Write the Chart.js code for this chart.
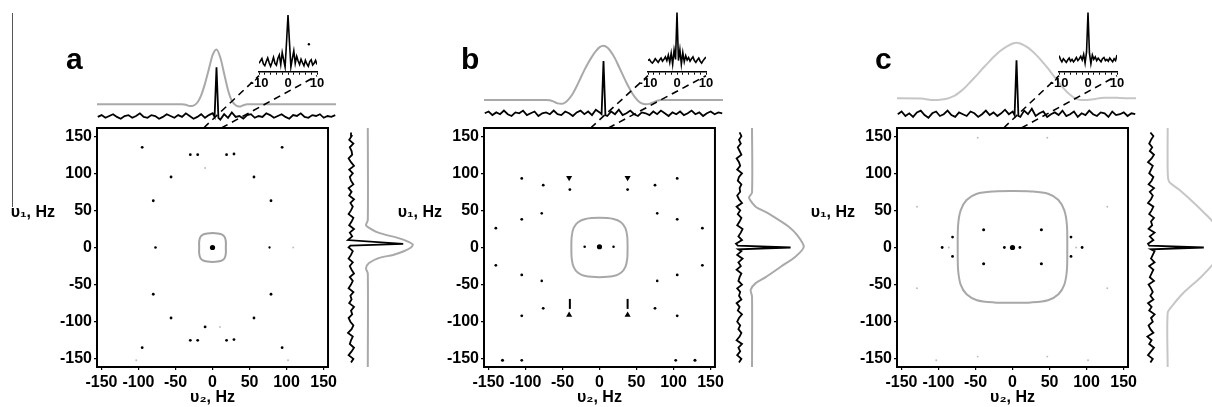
<!DOCTYPE html>
<html>
<head>
<meta charset="utf-8">
<script src="https://cdn.jsdelivr.net/npm/chart.js@4.4.0/dist/chart.umd.min.js"></script>
<style>
  html, body { margin: 0; padding: 0; background: #fff; width: 1212px; height: 407px; overflow: hidden; }
  canvas { position: absolute; }
  #edge { position: absolute; left: 12px; top: 13px; width: 0; height: 194px; border-left: 1px solid #555; }
</style>
</head>
<body>
<div id="edge"></div>
<script>
// ---- shared axes / grids ----
const axisTicks = [-150, -100, -50, 0, 50, 100, 150];
const insetTicks = [-10, -8, -6, -4, -2, 0, 2, 4, 6, 8, 10];
const insetLabels = [-10, 0, 10];
const zoomFrom = [-12, 12];
const zoomTo = [-10, 10];

const freqGrid = [-155,-150,-145,-140,-135,-130,-125,-120,-115,-110,-105,-100,-95,-90,-85,-80,-75,-70,-65,-60,
  -55,-50,-45,-40,-35,-30,-25,-20,-15,-10,-5,-2.5,0,2.5,5,10,15,20,25,30,35,40,45,50,55,60,65,70,75,80,85,90,95,100,
  105,110,115,120,125,130,135,140,145,150,155];
const insetGrid = [-10,-9.5,-9,-8.5,-8,-7.5,-7,-6.5,-6,-5.5,-5,-4.5,-4,-3.5,-3,-2.5,-2,-1.5,-1,-0.5,0,
  0.5,1,1.5,2,2.5,3,3.5,4,4.5,5,5.5,6,6.5,7,7.5,8,8.5,9,9.5,10];

// ---- panel a ----
const peaksAX = [-95,-30,-20,19,29,94,-56,56,-10,-80,79,-77,77,109,0,-80,79,-56,56,-10,10,-30,-20,19,29,-95,94,-103,102];
const peaksAY = [135,125,125,125,126,135,95,95,107,63,63,0,0,0,0,-63,-63,-95,-95,-107,-107,-125,-125,-125,-124,-135,-135,-152,-152];
const peaksAI = [1,1,1,1,1,1,1,1,0.3,1,1,0.8,0.6,0.3,3,1,1,1,1,1,0.3,1,1,1,1,1,1,0.3,0.3];
const contourAX = [18,18,16.5,13,7,0,-7,-13,-16.5,-18,-18,-18,-16.5,-13,-7,0,7,13,16.5,18,18];
const contourAY = [0,8,14,17.5,19,19.5,19,17.5,14,8,0,-8,-14,-17.5,-19,-19.5,-19,-17.5,-14,-8,0];
const topBlackA = [9,11,8,10,12,9,7,10,11,8,10,13,9,8,11,10,7,9,12,10,8,11,9,13,10,7,9,12,8,11,13,9,
  64,
  8,6,12,8,14,9,10,7,11,12,8,10,9,13,11,8,10,12,9,7,11,10,13,9,8,11,10,12,8,10,9,11];
const topGrayAX = [-156,-45,-40,-35,-30,-25,-20,-15,-10,-5,0,5,10,15,20,25,30,35,40,156];
const topGrayAY = [23,23,22.5,21,21.5,25,33,46,62,78,84,75,57,39,27,22,20.5,22,23,23];
const rightBlackA = [10,14,6,11,15,8,10,13,5,11,14,9,6,12,10,15,7,11,9,14,6,10,13,8,15,11,8,13,6,10,13,10,6,9,
  97,
  5,12,8,15,7,11,14,6,10,13,9,15,7,11,6,14,10,8,13,7,15,10,6,12,11,8,14,7,11,10];
const rightGrayAF = [-162,-35,-28,-21,-14,-10,-5,0,4,8,13,17,21,26,30,37,162];
const rightGrayAV = [38,38,35,40,57,80,98,110,113,105,88,68,52,41,35,38,38];
const insetA = [14,18,22,13,10,17,23,15,9,16,24,14,11,22,28,12,32,20,8,50,95,50,8,22,35,14,26,18,12,21,15,
  10,19,13,9,17,20,11,14,19,12];
const insetSpotAX = [7.2];
const insetSpotAY = [46];

// ---- panel b ----
const peaksBX = [-105,-76,-40,38,75,105,-78,78,-105,105,-140,139,-20,19,0,-140,139,-105,105,-78,78,-76,75,-105,105,-131,-105,103,129];
const peaksBY = [93,84,78,78,84,93,46,46,38,38,26,26,1,1,1,-24,-24,-37,-37,-45,-45,-82,-82,-92,-92,-152,-152,-152,-152];
const peaksBI = [1,1,1,1,1,1,0.8,0.8,1,1,1,1,0.8,0.8,3,1,1,1,1,0.8,0.8,1,1,1,1,1.2,1,1,1.2];
const capsBX = [-41, 38];
const capsBY = [94, 94];
const wedgesBX = [-41, 38];
const wedgesBY = [-91, -91];
const spikesBX = [-40, 38];
const spikesBY = [-76, -76];
const contourBX = [38,37.5,35,29,19,0,-19,-29,-35,-37.5,-38,-37.5,-35,-29,-19,0,19,29,35,37.5,38];
const contourBY = [0,15,26,34,38.5,40,38.5,34,26,15,0,-15,-26,-34,-38.5,-40,-38.5,-34,-26,-15,0];
const topBlackB = [13,15,11,14,12,16,12,10,14,13,16,11,13,15,10,13,14,12,16,12,11,15,13,10,14,16,12,15,11,17,14,12,
  71,
  11,10,15,12,17,11,13,16,12,10,14,13,11,15,12,16,13,10,14,12,15,11,13,16,12,14,10,13,15,12,14,13];
const topGrayBX = [-156,-75,-70,-65,-60,-55,-50,-45,-40,-35,-30,-25,-20,-15,-10,-5,0,5,10,15,20,25,30,35,40,45,50,55,60,65,70,75,156];
const topGrayBY = [27.8,27.8,27.5,26,24,23.5,25,29,35,43,52,61,69,76,82,86.5,88,86,81,74,65,56,47,39,32,27,24,23,23.5,25,27,27.8,27.8];
const rightBlackB = [10,14,7,12,9,15,6,11,14,9,12,7,10,15,8,11,6,14,10,12,7,15,9,11,14,6,13,9,16,7,14,9,
  96,
  8,5,15,9,13,16,7,11,14,8,12,6,15,10,7,12,11,14,8,10,15,7,12,10,6,14,11,8,13,10,14,11];
const rightGrayBF = [-162,-66,-57,-48,-40,-26,-12,1,17,28,37,47,55,67,74,162];
const rightGrayBV = [31.7,31.7,29.5,37.8,54.5,79.5,104.5,118,106.7,93,76.7,56.7,37.8,26.7,31.7,31.7];
const insetB = [18,20,16,14,17,21,18,15,19,22,17,20,24,18,27,15,30,12,35,20,96,18,36,12,31,16,26,19,23,17,21,
  24,18,15,19,22,17,14,18,21,24];

// ---- panel c ----
const peaksCX = [-47,47,-129,128,-39,39,-81,79,-95,-86,-11,0,10,86,94,-81,79,-39,39,-129,128,-47,47,-103,102];
const peaksCY = [148,148,55,55,24,24,14,14,0,0,0,0,0,0,0,-12,-12,-22,-22,-55,-55,-147,-147,-152,-152];
const peaksCI = [0.3,0.3,0.3,0.3,1.2,1.2,1,1,1,0.3,1,3,1,0.3,1,1,1,1.2,1.2,0.3,0.3,0.3,0.3,0.3,0.3];
const contourCX = [74,73.5,70,62,48,25,0,-25,-48,-62,-70,-73.5,-74,-73.5,-70,-62,-48,-25,0,25,48,62,70,73.5,74];
const contourCY = [0,30,50,64,72.5,75.5,76,75.5,72.5,64,50,30,0,-30,-50,-63,-71,-74,-74.5,-74,-71,-63,-50,-30,0];
const topBlackC = [12,15,10,13,9,14,16,11,8,13,15,10,12,16,11,9,14,12,10,15,13,9,12,16,11,14,10,13,17,12,15,11,
  72,
  10,9,16,12,18,10,13,15,9,12,14,11,16,10,12,15,9,13,11,16,12,10,14,13,9,15,11,12,14,10,13,12];
const topGrayCX = [-157,-125,-120,-115,-110,-105,-100,-95,-90,-85,-80,-75,-70,-65,-60,-55,-50,-45,-40,-35,
  -30,-25,-20,-15,-10,-5,0,5,10,15,20,25,30,35,40,45,50,55,60,65,70,75,80,85,90,95,100,105,110,115,125,135,145,157];
const topGrayCY = [29.6,29.5,29,28.3,27.8,27.8,28,28.5,29.5,31,33,36,39.5,43.5,48,52.5,57,62,66.5,71,
  75.5,79.5,83,86,88.5,90.5,91.5,90.5,88.5,86,82.5,78.5,74,69,64,58.5,53,47.5,42,37.5,
  33.5,30.5,28.5,27.8,27.8,28,28.5,29.3,30,30.4,30.4,30,29.8,29.6];
const rightBlackC = [9,13,5,10,15,7,11,4,14,9,6,13,10,16,7,11,5,14,9,13,10,6,15,8,11,14,7,16,10,13,16,10,
  98,
  7,5,14,8,16,6,12,10,15,7,11,14,5,10,13,8,15,6,11,14,7,10,13,5,11,15,8,12,7,10,14,9];
const rightGrayCF = [-162,-88,-78,-62,-40,-21,-8,5,20,33,42,60,78,89,105,162];
const rightGrayCV = [37.8,37.8,46,63,93,115,128,133,125,115,104.5,81.7,56.7,40,37.8,37.8];
const insetC = [26,20,16,21,18,15,19,22,17,20,16,19,23,18,21,25,19,28,14,32,96,30,13,27,20,24,18,22,19,16,21,
  23,18,20,17,22,19,16,21,18,27];

Chart.defaults.font.family = "'Liberation Sans', Arial, sans-serif";
Chart.defaults.font.weight = 'bold';
Chart.defaults.color = '#000';

const BOX = 239;
const panels = [
  { letter: 'a', boxLeft: 97, letterDx: -31, rightLeft: 345, insetLeft: 259, gray: '#a9a9a9', contourColor: '#a3a3a3',
    px: peaksAX, py: peaksAY, pi: peaksAI, cx: contourAX, cy: contourAY,
    topBlack: topBlackA, topGrayX: topGrayAX, topGrayY: topGrayAY,
    rightBlack: rightBlackA, rightGrayF: rightGrayAF, rightGrayV: rightGrayAV,
    inset: insetA, spotX: insetSpotAX, spotY: insetSpotAY },
  { letter: 'b', boxLeft: 484, letterDx: -23, rightLeft: 733, insetLeft: 648, gray: '#a9a9a9', contourColor: '#a8a8a8',
    px: peaksBX, py: peaksBY, pi: peaksBI, cx: contourBX, cy: contourBY,
    topBlack: topBlackB, topGrayX: topGrayBX, topGrayY: topGrayBY,
    rightBlack: rightBlackB, rightGrayF: rightGrayBF, rightGrayV: rightGrayBV,
    inset: insetB, spotX: [], spotY: [] },
  { letter: 'c', boxLeft: 897, letterDx: -22, rightLeft: 1145, insetLeft: 1059, gray: '#c6c6c6', contourColor: '#a8a8a8',
    px: peaksCX, py: peaksCY, pi: peaksCI, cx: contourCX, cy: contourCY,
    topBlack: topBlackC, topGrayX: topGrayCX, topGrayY: topGrayCY,
    rightBlack: rightBlackC, rightGrayF: rightGrayCF, rightGrayV: rightGrayCV,
    inset: insetC, spotX: [], spotY: [] }
];

function makeCanvas(left, top, w, h) {
  const c = document.createElement('canvas');
  c.width = w; c.height = h;
  c.style.left = left + 'px'; c.style.top = top + 'px';
  c.style.width = w + 'px'; c.style.height = h + 'px';
  document.body.appendChild(c);
  return c;
}

function zip(xs, ys) {
  return xs.map((x, i) => ({ x: x, y: ys[i] }));
}

const baseOptions = {
  responsive: false,
  animation: false,
  events: [],
  plugins: { legend: { display: false }, tooltip: { enabled: false } }
};

// Frame, panel letter and the horizontal υ1 label
function framePlugin(p) {
  return {
    id: 'frame' + p.letter,
    afterDraw(chart) {
      const { ctx, chartArea: a } = chart;
      ctx.save();
      ctx.strokeStyle = '#000';
      ctx.lineWidth = 2;
      ctx.strokeRect(a.left, a.top, a.right - a.left, a.bottom - a.top);
      ctx.fillStyle = '#000';
      ctx.font = "bold 30px 'Liberation Sans', Arial, sans-serif";
      ctx.textBaseline = 'alphabetic';
      ctx.fillText(p.letter, a.left + p.letterDx, 69);
      ctx.font = "bold 16px 'Liberation Sans', Arial, sans-serif";
      ctx.textAlign = 'right';
      ctx.textBaseline = 'middle';
      ctx.fillText('υ₁, Hz', a.left - 42, a.top + 85);
      ctx.restore();
    }
  };
}

function mainChart(p) {
  const cv = makeCanvas(p.boxLeft - 92, 0, 92 + BOX + 4, 407);
  const peaks = p.px.map((x, i) => ({ x: x, y: p.py[i], i: p.pi[i] }));
  const datasets = [
    { data: zip(p.cx, p.cy), showLine: true, borderColor: p.contourColor, borderWidth: 2,
      pointRadius: 0, tension: 0.3 },
    { data: peaks, borderWidth: 0,
      pointRadius: ctx => ctx.raw ? 0.8 + 0.6 * ctx.raw.i : 1,
      pointBackgroundColor: ctx => (ctx.raw && ctx.raw.i < 0.5) ? '#bdbdbd' : '#000' }
  ];
  if (p.letter === 'b') {
    datasets.push({ data: zip(capsBX, capsBY), pointStyle: 'triangle', rotation: 180, pointRadius: 3.5,
      backgroundColor: '#000', borderWidth: 0 });
    datasets.push({ data: zip(wedgesBX, wedgesBY), pointStyle: 'triangle', pointRadius: 3.5,
      backgroundColor: '#000', borderWidth: 0 });
    datasets.push({ data: zip(spikesBX, spikesBY), pointStyle: 'line', rotation: 90, pointRadius: 5,
      borderColor: '#000', borderWidth: 2 });
  }
  return new Chart(cv, {
    type: 'scatter',
    data: { datasets: datasets },
    options: Object.assign({}, baseOptions, {
      layout: { padding: { top: 128, right: 4, left: 0, bottom: 0 } },
      scales: {
        x: {
          type: 'linear', min: -156, max: 156,
          afterBuildTicks: s => { s.ticks = axisTicks.map(v => ({ value: v })); },
          afterFit: s => { s.height = 40; },
          ticks: { font: { size: 16, weight: 'bold' }, padding: 3, maxRotation: 0, autoSkip: false },
          grid: { drawOnChartArea: false, tickLength: 3, color: '#000', lineWidth: 1.2 },
          border: { color: '#000', width: 2 },
          title: { display: true, text: 'υ₂, Hz', font: { size: 16, weight: 'bold' }, padding: 0 }
        },
        y: {
          type: 'linear', min: -161, max: 161,
          afterBuildTicks: s => { s.ticks = axisTicks.map(v => ({ value: v })); },
          afterFit: s => { s.width = 92; },
          ticks: { font: { size: 16, weight: 'bold' }, padding: 2, autoSkip: false },
          grid: { drawOnChartArea: false, tickLength: 3, color: '#000', lineWidth: 1.2 },
          border: { color: '#000', width: 2 }
        }
      }
    }),
    plugins: [framePlugin(p)]
  });
}

// Projection along the top edge
function topChart(p) {
  const cv = makeCanvas(p.boxLeft, 35, BOX, 90);
  return new Chart(cv, {
    type: 'line',
    data: { datasets: [
      { data: zip(p.topGrayX, p.topGrayY), borderColor: p.gray, borderWidth: 2, pointRadius: 0,
        cubicInterpolationMode: 'monotone' },
      { data: zip(freqGrid, p.topBlack), borderColor: '#000', borderWidth: 1.8, pointRadius: 0, tension: 0 }
    ] },
    options: Object.assign({}, baseOptions, {
      scales: {
        x: { type: 'linear', display: false, min: -156, max: 156 },
        y: { type: 'linear', display: false, min: 0, max: 100 }
      }
    })
  });
}

// Projection along the right edge (vertical spectrum)
function rightChart(p) {
  const cv = makeCanvas(p.rightLeft, 128, 90, BOX);
  return new Chart(cv, {
    type: 'line',
    data: { datasets: [
      { data: zip(p.rightGrayV, p.rightGrayF), borderColor: p.gray, borderWidth: 2, pointRadius: 0,
        tension: 0.25, clip: false },
      { data: zip(p.rightBlack, freqGrid), borderColor: '#000', borderWidth: 1.8, pointRadius: 0,
        tension: 0, clip: false }
    ] },
    options: Object.assign({}, baseOptions, {
      indexAxis: 'y',
      layout: { padding: { right: 30 } },
      scales: {
        x: { type: 'linear', display: false, min: 0, max: 100 },
        y: { type: 'linear', display: false, min: -161, max: 161 }
      }
    })
  });
}

// Zoomed centre line (-10..10 Hz)
function insetChart(p) {
  const cv = makeCanvas(p.insetLeft - 12, 8, 82, 88);
  return new Chart(cv, {
    type: 'line',
    data: { datasets: [
      { data: zip(insetGrid, p.inset), borderColor: '#000', borderWidth: 1.6, pointRadius: 0, tension: 0 },
      { data: zip(p.spotX, p.spotY), showLine: false, pointRadius: 1.2, backgroundColor: '#000', borderWidth: 0 }
    ] },
    options: Object.assign({}, baseOptions, {
      layout: { padding: { left: 12, right: 12, top: 2, bottom: 0 } },
      scales: {
        x: {
          type: 'linear', min: -10, max: 10,
          afterBuildTicks: s => { s.ticks = insetTicks.map(v => ({ value: v })); },
          afterFit: s => { s.height = 24.3; },
          ticks: { font: { size: 13, weight: 'bold' }, padding: 1, maxRotation: 0, autoSkip: false,
                   callback: v => insetLabels.includes(v) ? String(v) : '' },
          grid: { drawOnChartArea: false, tickLength: 3, color: '#000', lineWidth: 1 },
          border: { color: '#000', width: 1.5 }
        },
        y: { type: 'linear', display: false, min: 0, max: 100 }
      }
    })
  });
}

// Dashed lines from the main frame to the inset axis
function drawConnectors(items) {
  const cv = makeCanvas(0, 0, 1212, 407);
  const ctx = cv.getContext('2d');
  ctx.setLineDash([7, 5]);
  ctx.lineWidth = 1.6;
  ctx.strokeStyle = '#000';
  items.forEach(it => {
    zoomFrom.forEach((v, k) => {
      const x0 = it.p.boxLeft - 92 + it.main.scales.x.getPixelForValue(v);
      const y0 = it.main.chartArea.top;
      const x1 = it.p.insetLeft - 12 + it.inset.scales.x.getPixelForValue(zoomTo[k]);
      const y1 = 8 + it.inset.chartArea.bottom + 4;
      ctx.beginPath();
      ctx.moveTo(x0, y0);
      ctx.lineTo(x1, y1);
      ctx.stroke();
    });
  });
}

const built = panels.map(p => {
  const main = mainChart(p);
  topChart(p);
  rightChart(p);
  const inset = insetChart(p);
  return { p: p, main: main, inset: inset };
});
drawConnectors(built);
</script>
</body>
</html>
